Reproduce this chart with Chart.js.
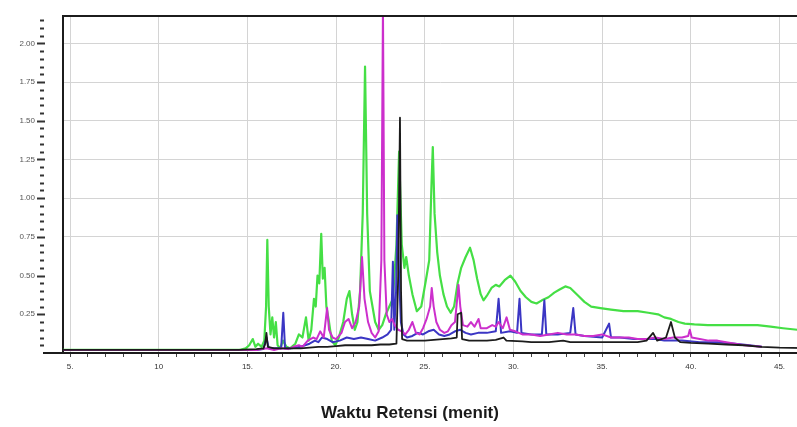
<!DOCTYPE html>
<html>
<head>
<meta charset="utf-8">
<script src="https://cdn.jsdelivr.net/npm/chart.js@4"></script>
<style>
  html, body { margin: 0; padding: 0; background: #fff; overflow: hidden; }
  #kromatogram { display: block; }
</style>
</head>
<body>
<canvas id="kromatogram" width="820" height="427"></canvas>
<script>
// data kromatogram: [waktu (menit), intensitas]
const hijau = [
  [4.6,0.02],[14.6,0.02],[14.9,0.03],[15.1,0.05],[15.3,0.09],[15.45,0.04],[15.6,0.06],[15.8,0.04],
  [15.95,0.08],[16.05,0.3],[16.12,0.73],[16.2,0.3],[16.3,0.12],[16.4,0.23],[16.5,0.1],[16.6,0.2],
  [16.7,0.05],[16.85,0.03],[17.0,0.08],[17.2,0.04],[17.4,0.03],[17.7,0.06],[17.9,0.12],[18.1,0.1],
  [18.3,0.23],[18.45,0.08],[18.6,0.15],[18.75,0.35],[18.85,0.3],[18.95,0.5],[19.05,0.45],[19.16,0.77],
  [19.25,0.48],[19.35,0.55],[19.45,0.3],[19.6,0.2],[19.75,0.08],[19.95,0.05],[20.15,0.1],[20.4,0.2],
  [20.6,0.35],[20.75,0.4],[20.9,0.25],[21.05,0.15],[21.2,0.2],[21.35,0.4],[21.5,0.9],[21.63,1.85],
  [21.75,0.9],[21.9,0.4],[22.05,0.3],[22.2,0.2],[22.4,0.15],[22.6,0.18],[22.8,0.25],[23.0,0.3],
  [23.2,0.35],[23.4,0.7],[23.55,1.3],[23.7,0.7],[23.85,0.55],[23.95,0.62],[24.1,0.5],[24.3,0.38],
  [24.55,0.27],[24.8,0.3],[25.06,0.47],[25.25,0.6],[25.38,1.1],[25.45,1.33],[25.55,0.9],[25.7,0.65],
  [25.85,0.5],[26.05,0.38],[26.25,0.3],[26.46,0.26],[26.65,0.3],[26.85,0.45],[27.05,0.55],[27.3,0.62],
  [27.55,0.68],[27.75,0.6],[27.95,0.48],[28.15,0.38],[28.31,0.34],[28.5,0.37],[28.76,0.42],[29.0,0.44],
  [29.2,0.43],[29.5,0.47],[29.83,0.5],[30.1,0.46],[30.4,0.4],[30.7,0.36],[31.01,0.33],[31.3,0.32],
  [31.6,0.34],[31.97,0.36],[32.3,0.39],[32.6,0.41],[32.92,0.43],[33.2,0.42],[33.65,0.37],[34.0,0.33],
  [34.38,0.3],[34.9,0.29],[35.5,0.28],[36.2,0.27],[37.0,0.27],[37.6,0.26],[38.15,0.25],[38.5,0.23],
  [38.88,0.22],[39.3,0.2],[39.66,0.19],[40.2,0.185],[40.96,0.18],[42.0,0.18],[43.0,0.18],[43.76,0.18],
  [44.5,0.17],[45.2,0.16],[46.0,0.15],[47.2,0.15]
];
const magenta = [
  [4.6,0.02],[15.0,0.02],[15.5,0.02],[15.8,0.025],[16.1,0.03],[16.5,0.02],[16.9,0.03],[17.3,0.025],
  [17.6,0.04],[17.9,0.05],[18.1,0.04],[18.4,0.08],[18.7,0.1],[18.9,0.09],[19.1,0.14],[19.3,0.1],
  [19.49,0.29],[19.6,0.15],[19.8,0.1],[20.0,0.09],[20.3,0.13],[20.5,0.2],[20.7,0.22],[20.9,0.16],
  [21.1,0.2],[21.3,0.3],[21.46,0.62],[21.6,0.35],[21.8,0.2],[22.0,0.13],[22.2,0.1],[22.4,0.14],
  [22.55,0.6],[22.64,2.25],[22.72,0.6],[22.85,0.25],[23.0,0.2],[23.15,0.22],[23.3,0.18],[23.5,0.15],
  [23.7,0.14],[23.9,0.12],[24.1,0.15],[24.3,0.2],[24.5,0.13],[24.7,0.12],[24.9,0.16],[25.1,0.22],
  [25.3,0.3],[25.39,0.42],[25.5,0.3],[25.65,0.2],[25.85,0.15],[26.1,0.13],[26.3,0.14],[26.5,0.18],
  [26.7,0.2],[26.9,0.44],[27.0,0.3],[27.15,0.18],[27.4,0.17],[27.6,0.2],[27.8,0.17],[28.03,0.22],
  [28.15,0.16],[28.5,0.16],[28.8,0.18],[29.0,0.17],[29.16,0.2],[29.4,0.16],[29.61,0.23],[29.8,0.15],
  [30.1,0.14],[30.5,0.12],[31.0,0.12],[31.5,0.11],[32.0,0.12],[32.5,0.13],[33.0,0.12],[33.5,0.12],
  [34.0,0.11],[34.5,0.11],[35.0,0.12],[35.5,0.1],[36.0,0.1],[36.5,0.1],[37.0,0.09],[37.5,0.09],
  [38.0,0.1],[38.5,0.09],[39.0,0.1],[39.5,0.1],[39.85,0.11],[39.94,0.15],[40.05,0.1],[40.5,0.09],
  [41.0,0.08],[41.5,0.08],[42.0,0.07],[42.5,0.06],[43.0,0.05],[43.5,0.045],[44.0,0.04]
];
const biru = [
  [4.6,0.02],[15.5,0.02],[15.9,0.025],[16.07,0.1],[16.2,0.03],[16.9,0.03],[17.02,0.26],[17.12,0.03],
  [17.5,0.03],[18.0,0.04],[18.5,0.06],[18.8,0.08],[19.0,0.07],[19.2,0.1],[19.5,0.09],[19.8,0.07],
  [20.2,0.08],[20.6,0.1],[21.0,0.09],[21.4,0.1],[21.8,0.09],[22.2,0.08],[22.6,0.1],[22.9,0.12],
  [23.1,0.15],[23.2,0.59],[23.28,0.15],[23.38,0.4],[23.45,0.89],[23.55,0.5],[23.65,0.2],[23.8,0.12],
  [24.0,0.1],[24.3,0.11],[24.6,0.13],[24.9,0.12],[25.2,0.14],[25.5,0.15],[25.8,0.12],[26.1,0.11],
  [26.4,0.12],[26.7,0.14],[27.0,0.15],[27.3,0.13],[27.6,0.12],[28.0,0.13],[28.5,0.13],[29.0,0.14],
  [29.16,0.35],[29.3,0.13],[29.8,0.14],[30.2,0.13],[30.34,0.35],[30.45,0.13],[31.0,0.12],[31.6,0.12],
  [31.74,0.34],[31.85,0.12],[32.5,0.12],[33.2,0.13],[33.37,0.29],[33.5,0.12],[34.0,0.11],[35.0,0.1],
  [35.39,0.19],[35.5,0.1],[36.0,0.1],[36.8,0.09],[37.5,0.09],[38.0,0.09],[38.5,0.08],[39.5,0.08],
  [40.5,0.07],[41.5,0.07],[42.5,0.06],[43.3,0.05],[44.0,0.04]
];
const hitam = [
  [4.6,0.02],[10,0.02],[14.5,0.02],[15.5,0.025],[15.9,0.03],[16.0,0.06],[16.07,0.13],[16.15,0.04],
  [16.5,0.03],[17.0,0.03],[17.5,0.03],[18.0,0.03],[18.5,0.035],[19.0,0.04],[19.5,0.04],[20.0,0.045],
  [20.5,0.05],[21.0,0.05],[21.5,0.05],[22.0,0.05],[22.5,0.055],[23.0,0.055],[23.4,0.06],[23.5,0.5],
  [23.6,1.52],[23.66,0.4],[23.72,0.09],[24.0,0.08],[24.5,0.08],[25.0,0.08],[25.5,0.085],[26.0,0.09],
  [26.5,0.095],[26.8,0.1],[26.85,0.25],[27.05,0.26],[27.1,0.09],[27.5,0.08],[28.0,0.08],[28.5,0.08],
  [29.0,0.085],[29.44,0.1],[29.6,0.08],[30.5,0.075],[31.0,0.07],[32.0,0.07],[32.8,0.08],[33.2,0.07],
  [34.0,0.07],[35.0,0.07],[36.0,0.07],[37.0,0.07],[37.5,0.08],[37.87,0.13],[38.1,0.08],[38.6,0.1],
  [38.88,0.2],[39.1,0.1],[39.4,0.07],[40.0,0.065],[41.0,0.06],[42.0,0.055],[43.0,0.05],[44.0,0.04],
  [45.0,0.035],[47.2,0.03]
];

// label sumbu
const tickWaktu = [5, 10, 15, 20, 25, 30, 35, 40, 45];
const labelWaktu = ['5.', '10', '15.', '20.', '25.', '30.', '35.', '40.', '45.'];
const judulX = 'Waktu Retensi (menit)';

const titik = arr => arr.map(p => ({ x: p[0], y: p[1] }));

function seri(data, warna, urutan, tebal) {
    return {
        data: titik(data),
        borderColor: warna,
        borderWidth: tebal,
        pointRadius: 0,
        tension: 0,
        borderJoinStyle: 'round',
        order: urutan
    };
}

// tanda kecil di kiri sumbu y, garis atas kotak
const tandaY = {
    id: 'tandaY',
    afterDraw(chart) {
        const sy = chart.scales.y, ctx = chart.ctx, area = chart.chartArea;
        ctx.save();
        ctx.strokeStyle = '#333';
        ctx.lineWidth = 2;
        for (let i = 1; i * 0.05 <= sy.max; i++) {
            const py = Math.round(sy.getPixelForValue(i * 0.05)) + 0.5;
            const besar = i % 5 === 0;
            ctx.beginPath();
            ctx.moveTo(besar ? 37 : 40, py);
            ctx.lineTo(besar ? 45 : 44, py);
            ctx.stroke();
        }
        ctx.strokeStyle = '#1c1c1c';
        ctx.beginPath();
        ctx.moveTo(43, area.bottom);
        ctx.lineTo(area.left, area.bottom);
        ctx.moveTo(area.left - 1, area.top - 1);
        ctx.lineTo(area.right, area.top - 1);
        ctx.stroke();
        ctx.restore();
    }
};

const fontTick = { family: 'Liberation Sans', size: 8 };

new Chart(document.getElementById('kromatogram'), {
    type: 'line',
    data: {
        datasets: [
            seri(hitam, '#1c1c1c', 1, 1.8),
            seri(magenta, '#cc2fcc', 2, 2),
            seri(biru, '#3b36c4', 3, 2),
            seri(hijau, '#45df45', 4, 2.2)
        ]
    },
    options: {
        responsive: false,
        animation: false,
        layout: { padding: { top: 17, right: 0, left: 0, bottom: 0 } },
        plugins: {
            legend: { display: false },
            tooltip: { enabled: false },
            title: {
                display: true,
                position: 'bottom',
                text: judulX,
                color: '#1a1a1a',
                font: { family: 'Liberation Sans', size: 17, weight: 'bold' },
                padding: { top: 0, bottom: 3 }
            }
        },
        scales: {
            x: {
                type: 'linear',
                min: 4.6,
                max: 47.13,
                afterFit(s) { s.height = 50.6; },
                border: { color: '#1c1c1c', width: 2 },
                grid: {
                    color: c => tickWaktu.includes(c.tick.value) ? '#d4d4d4' : 'rgba(0,0,0,0)',
                    tickColor: '#444',
                    tickLength: 4
                },
                ticks: {
                    stepSize: 1,
                    includeBounds: false,
                    autoSkip: false,
                    maxRotation: 0,
                    padding: 5,
                    color: '#333',
                    font: fontTick,
                    callback: v => {
                        const i = tickWaktu.indexOf(v);
                        return i >= 0 ? labelWaktu[i] : '';
                    }
                }
            },
            y: {
                min: 0,
                max: 2.17,
                afterFit(s) { s.width = 63; },
                border: { color: '#1c1c1c', width: 2 },
                grid: {
                    color: c => c.tick.value >= 0.75 ? '#d4d4d4' : 'rgba(0,0,0,0)',
                    tickColor: 'rgba(0,0,0,0)',
                    tickLength: 25
                },
                ticks: {
                    stepSize: 0.25,
                    includeBounds: false,
                    padding: 3,
                    color: '#555',
                    font: fontTick,
                    callback: v => v > 0 ? v.toFixed(2) : ''
                }
            }
        }
    },
    plugins: [tandaY]
});
</script>
</body>
</html>
